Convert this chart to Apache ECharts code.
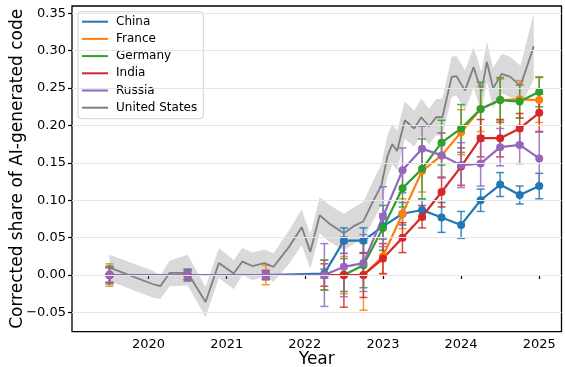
<!DOCTYPE html>
<html><head><meta charset="utf-8">
<script src="https://cdn.jsdelivr.net/npm/echarts@6/dist/echarts.min.js"></script>
<style>html,body{margin:0;padding:0;background:#fff}#c{width:565px;height:367px}</style>
</head><body><div id="c"></div>
<script>
// ---- data ----
const quarters = [2019.5, 2020.5, 2021.5, 2022.25, 2022.5, 2022.75, 2023.0, 2023.25, 2023.5, 2023.75, 2024.0, 2024.25, 2024.5, 2024.75, 2025.0];
const chinaShare   = [0, 0, 0, 0.002, 0.046, 0.046, 0.065, 0.082, 0.087, 0.077, 0.067, 0.100, 0.121, 0.107, 0.119];
const chinaErr     = [0.010, 0.008, 0.004, 0.006, 0.017, 0.017, 0.017, 0.015, 0.013, 0.020, 0.018, 0.015, 0.016, 0.012, 0.017];
const franceShare  = [0, 0, 0, 0, 0, 0, 0.025, 0.082, 0.139, 0.160, 0.191, 0.222, 0.234, 0.235, 0.234];
const franceErr    = [0.015, 0.006, 0.013, 0.020, 0.025, 0.047, 0.025, 0.020, 0.028, 0.030, 0.030, 0.030, 0.028, 0.025, 0.030];
const germanyShare = [0, 0, 0, 0, 0, 0.013, 0.063, 0.116, 0.142, 0.177, 0.196, 0.222, 0.234, 0.232, 0.245];
const germanyErr   = [0.012, 0.006, 0.006, 0.020, 0.022, 0.030, 0.030, 0.025, 0.040, 0.030, 0.032, 0.036, 0.030, 0.022, 0.020];
const indiaShare   = [0, 0, 0, 0, 0, 0, 0.022, 0.050, 0.078, 0.111, 0.145, 0.183, 0.183, 0.196, 0.217];
const indiaErr     = [0.010, 0.006, 0.006, 0.015, 0.043, 0.030, 0.020, 0.020, 0.015, 0.020, 0.025, 0.025, 0.025, 0.020, 0.025];
const russiaShare  = [0, 0, 0, 0, 0.011, 0.016, 0.078, 0.140, 0.169, 0.160, 0.147, 0.149, 0.171, 0.174, 0.156];
const russiaErr    = [0.010, 0.006, 0.006, 0.042, 0.040, 0.038, 0.040, 0.030, 0.030, 0.030, 0.030, 0.030, 0.025, 0.025, 0.035];

const usYears = [2019.5, 2020.05, 2020.15, 2020.27, 2020.5, 2020.73, 2020.9, 2021.09, 2021.2, 2021.33, 2021.48, 2021.6, 2021.8, 2021.96, 2022.07, 2022.19, 2022.31, 2022.5, 2022.62, 2022.75, 2022.87, 2022.98, 2023.06, 2023.12, 2023.18, 2023.28, 2023.4, 2023.49, 2023.59, 2023.68, 2023.76, 2023.88, 2023.94, 2024.05, 2024.16, 2024.26, 2024.33, 2024.41, 2024.52, 2024.63, 2024.76, 2024.93];
const usShare = [0.010, -0.012, -0.015, 0.003, 0.003, -0.036, 0.016, 0.002, 0.018, 0.012, 0.016, 0.011, 0.038, 0.064, 0.031, 0.080, 0.069, 0.056, 0.065, 0.072, 0.098, 0.120, 0.160, 0.175, 0.166, 0.207, 0.196, 0.211, 0.199, 0.211, 0.211, 0.265, 0.266, 0.247, 0.278, 0.245, 0.285, 0.250, 0.269, 0.265, 0.253, 0.306];
const usLow   = [-0.008, -0.030, -0.032, -0.015, -0.014, -0.056, -0.004, -0.019, 0.000, -0.007, -0.002, -0.009, 0.015, 0.040, 0.008, 0.056, 0.045, 0.033, 0.041, 0.048, 0.072, 0.093, 0.132, 0.148, 0.140, 0.182, 0.172, 0.187, 0.175, 0.187, 0.186, 0.238, 0.240, 0.220, 0.250, 0.218, 0.258, 0.223, 0.243, 0.238, 0.225, 0.262];
const usHigh  = [0.027, 0.006, -0.001, 0.019, 0.027, -0.016, 0.036, 0.020, 0.036, 0.030, 0.034, 0.029, 0.060, 0.088, 0.054, 0.104, 0.094, 0.082, 0.090, 0.098, 0.125, 0.148, 0.188, 0.202, 0.193, 0.232, 0.220, 0.236, 0.222, 0.235, 0.236, 0.292, 0.293, 0.274, 0.305, 0.272, 0.312, 0.277, 0.296, 0.292, 0.280, 0.350];

const xTicks = [2020, 2021, 2022, 2023, 2024, 2025];
const yTicks = [-0.05, 0.00, 0.05, 0.10, 0.15, 0.20, 0.25, 0.30, 0.35];
const legendNames = ['China', 'France', 'Germany', 'India', 'Russia', 'United States'];

// ---- chart ----
const FONT = 'DejaVu Sans';
const countries = [
  {name: 'China', vals: chinaShare, errs: chinaErr, color: '#1f77b4'},
  {name: 'France', vals: franceShare, errs: franceErr, color: '#ff7f0e'},
  {name: 'Germany', vals: germanyShare, errs: germanyErr, color: '#2ca02c'},
  {name: 'India', vals: indiaShare, errs: indiaErr, color: '#d62728'},
  {name: 'Russia', vals: russiaShare, errs: russiaErr, color: '#9467bd'}
];

function errSeries(c) {
  return {
    type: 'custom', name: c.name + ' err', silent: true,
    data: quarters.map((q, i) => [q, c.vals[i] - c.errs[i], c.vals[i] + c.errs[i]]),
    encode: {x: 0, y: [1, 2]},
    renderItem: (params, api) => {
      const top = api.coord([api.value(0), api.value(2)]);
      const bot = api.coord([api.value(0), api.value(1)]);
      const w = 4;
      const style = {stroke: c.color, lineWidth: 1.5, opacity: 0.85};
      return {type: 'group', children: [
        {type: 'line', shape: {x1: top[0], y1: top[1], x2: bot[0], y2: bot[1]}, style},
        {type: 'line', shape: {x1: top[0] - w, y1: top[1], x2: top[0] + w, y2: top[1]}, style},
        {type: 'line', shape: {x1: bot[0] - w, y1: bot[1], x2: bot[0] + w, y2: bot[1]}, style}
      ]};
    }
  };
}
function lineSeries(c) {
  return {
    type: 'line', name: c.name,
    data: quarters.map((q, i) => [q, c.vals[i]]),
    symbol: 'circle', symbolSize: 8, showSymbol: true,
    lineStyle: {color: c.color, width: 2.2},
    itemStyle: {color: c.color},
    emphasis: {disabled: true}
  };
}

const series = [
  {
    type: 'line', name: 'grid', data: [], silent: true,
    markLine: {
      silent: true, symbol: ['none', 'none'], label: {show: false},
      lineStyle: {color: '#e6e6e6', width: 1, type: 'solid'},
      data: yTicks.map(v => ({yAxis: v}))
    }
  },
  {
    type: 'custom', name: 'US band', silent: true,
    data: usYears.map((t, i) => [t, usLow[i], usHigh[i]]),
    encode: {x: 0, y: [1, 2]},
    renderItem: (params, api) => {
      if (params.dataIndex !== 0) return null;
      const pts = [];
      for (let i = 0; i < usYears.length; i++) pts.push(api.coord([usYears[i], usHigh[i]]));
      for (let i = usYears.length - 1; i >= 0; i--) pts.push(api.coord([usYears[i], usLow[i]]));
      return {type: 'polygon', shape: {points: pts}, style: {fill: 'rgba(128,128,128,0.3)'}};
    }
  },
  {
    type: 'line', name: 'United States',
    data: usYears.map((t, i) => [t, usShare[i]]),
    symbol: 'none', showSymbol: false,
    lineStyle: {color: '#7f7f7f', width: 1.8},
    itemStyle: {color: '#7f7f7f'},
    emphasis: {disabled: true}
  }
];
countries.forEach(c => { series.push(errSeries(c)); series.push(lineSeries(c)); });

const chart = echarts.init(document.getElementById('c'), null, {renderer: 'canvas'});
chart.setOption({
  animation: false,
  backgroundColor: '#fff',
  textStyle: {fontFamily: FONT},
  grid: {left: 72, right: 3.5, top: 6, bottom: 35.3, show: true, borderColor: '#000', borderWidth: 1.3,
    backgroundColor: 'transparent', containLabel: false, outerBoundsMode: 'none'},
  legend: {
    orient: 'vertical', left: 78, top: 11.7,
    data: legendNames, icon: 'rect', itemWidth: 26, itemHeight: 2, itemGap: 3.2,
    padding: [3, 6, 4, 4],
    textStyle: {fontSize: 12, fontFamily: FONT, color: '#000', lineHeight: 14, padding: [0, 0, 0, 3]},
    borderColor: '#d0d0d0', borderWidth: 1, borderRadius: 3,
    backgroundColor: 'rgba(255,255,255,0.8)',
    selectedMode: false
  },
  xAxis: {
    type: 'value', min: 2019.02, max: 2025.285,
    splitLine: {show: false},
    axisLine: {show: false},
    axisTick: {show: true, customValues: xTicks, length: 4, lineStyle: {color: '#000', width: 1.2}},
    axisLabel: {customValues: xTicks, fontSize: 13, color: '#000', fontFamily: FONT, margin: 6,
      formatter: v => String(Math.round(v))},
    name: 'Year', nameLocation: 'middle', nameGap: 19, nameMoveOverlap: false,
    nameTextStyle: {fontSize: 17, fontFamily: FONT, color: '#000'}
  },
  yAxis: {
    type: 'value', min: -0.0758, max: 0.3598,
    splitLine: {show: false},
    axisLine: {show: false},
    axisTick: {show: true, customValues: yTicks, length: 4, lineStyle: {color: '#000', width: 1.2}},
    axisLabel: {customValues: yTicks, fontSize: 13, color: '#000', fontFamily: FONT, margin: 6,
      formatter: v => v.toFixed(2).replace('-', '\u2212')},
    name: 'Corrected share of AI-generated code', nameLocation: 'middle', nameGap: 46, nameMoveOverlap: false,
    nameTextStyle: {fontSize: 17, fontFamily: FONT, color: '#000'}
  },
  series: series
});
</script>
</body></html>
